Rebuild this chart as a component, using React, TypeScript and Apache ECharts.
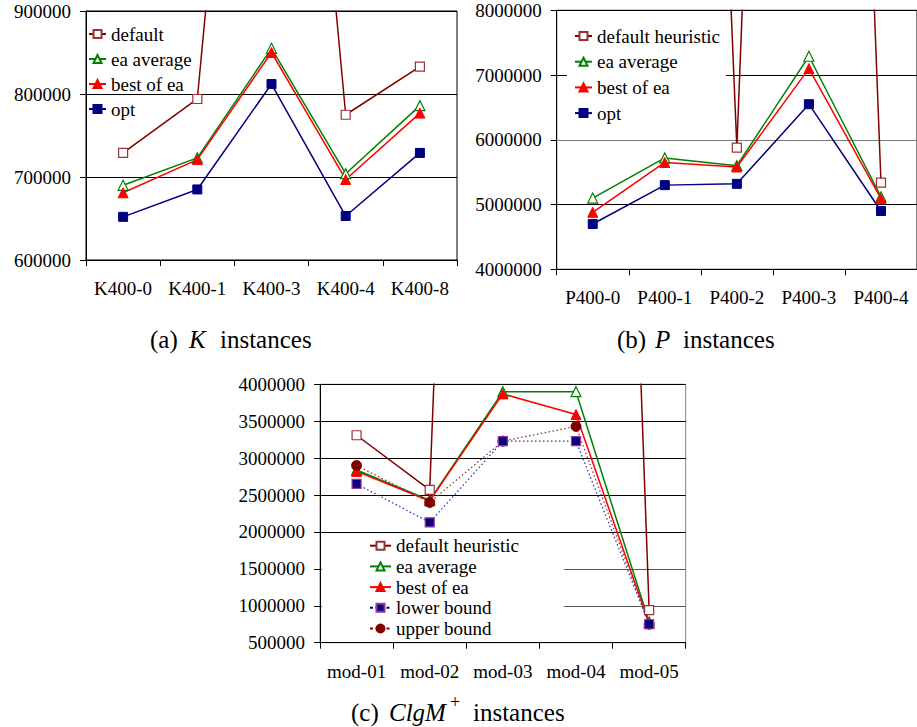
import React, { useEffect, useRef } from 'react';
import * as echarts from 'echarts';

const FONT = 'Liberation Serif';

// ---- Panel (a): K instances ----
const kCategories = ['K400-0', 'K400-1', 'K400-3', 'K400-4', 'K400-8'];
const kDefault = [729000, 794000, 1740000, 775000, 833000];
const kEaAverage = [690000, 723000, 855000, 704000, 786000];
const kBestOfEa = [681000, 721000, 850000, 697000, 777000];
const kOpt = [652000, 685000, 812000, 653000, 729000];
const kTicks = { min: 600000, max: 900000, interval: 100000 };

// ---- Panel (b): P instances ----
const pCategories = ['P400-0', 'P400-1', 'P400-2', 'P400-3', 'P400-4'];
const pDefault = [30000000, 32600000, 5880000, 34500000, 5340000];
const pEaAverage = [5100000, 5720000, 5600000, 7290000, 5120000];
const pBestOfEa = [4880000, 5650000, 5580000, 7100000, 5090000];
const pOpt = [4700000, 5300000, 5320000, 6550000, 4900000];
const pTicks = { min: 4000000, max: 8000000, interval: 1000000 };

// ---- Panel (c): ClgM+ instances ----
const cCategories = ['mod-01', 'mod-02', 'mod-03', 'mod-04', 'mod-05'];
const cDefault = [3310000, 2570000, 28000000, 28500000, 940000];
const cEaAverage = [2840000, 2430000, 3900000, 3900000, 780000];
const cBestOfEa = [2820000, 2420000, 3870000, 3590000, 760000];
const cLowerBound = [2650000, 2130000, 3230000, 3230000, 750000];
const cUpperBound = [2900000, 2400000, 3230000, 3430000, 750000];
const cTicks = { min: 500000, max: 4000000, interval: 500000 };

const styles: Record<string, any> = {
  default: {
    symbol: 'rect', symbolSize: 9,
    lineStyle: { color: '#800000', width: 1.5 },
    itemStyle: { color: '#ffffff', borderColor: '#993333', borderWidth: 1.2 },
  },
  ea: {
    symbol: 'triangle', symbolSize: 10,
    lineStyle: { color: '#008000', width: 1.5 },
    itemStyle: { color: '#ffffff', borderColor: '#008000', borderWidth: 1.2 },
  },
  best: {
    symbol: 'triangle', symbolSize: 10,
    lineStyle: { color: '#ff0000', width: 1.5 },
    itemStyle: { color: '#ff0000', borderColor: '#ff0000', borderWidth: 1 },
  },
  opt: {
    symbol: 'rect', symbolSize: 9,
    lineStyle: { color: '#000080', width: 1.5 },
    itemStyle: { color: '#000080', borderColor: '#000080', borderWidth: 1 },
  },
  lower: {
    symbol: 'rect', symbolSize: 9,
    lineStyle: { color: '#3333cc', width: 1.3, type: [1.5, 2.5] },
    itemStyle: { color: '#000080', borderColor: '#993399', borderWidth: 1.2 },
  },
  upper: {
    symbol: 'circle', symbolSize: 10,
    lineStyle: { color: '#993333', width: 1.3, type: [1.5, 2.5] },
    itemStyle: { color: '#800000', borderColor: '#800000', borderWidth: 1 },
  },
};

function line(name: string, data: number[], idx: number, style: string, z = 2) {
  const s = styles[style];
  return {
    type: 'line',
    name,
    data,
    xAxisIndex: idx,
    yAxisIndex: idx,
    symbol: s.symbol,
    symbolSize: s.symbolSize,
    showSymbol: true,
    lineStyle: s.lineStyle,
    itemStyle: s.itemStyle,
    clip: true,
    z,
    silent: true,
    emphasis: { disabled: true },
  };
}

const grids = [
  { left: 86, top: 11, width: 371, height: 249, borderColor: '#000' },
  { left: 556.7, top: 10.3, width: 360.3, height: 259, borderColor: '#000' },
  { left: 320, top: 384.3, width: 365.7, height: 258.4, borderColor: '#808080' },
];

function xAxis(idx: number, data: string[]) {
  return {
    type: 'category',
    gridIndex: idx,
    data,
    boundaryGap: true,
    axisLine: { show: true, lineStyle: { color: '#000', width: 1 } },
    axisTick: { show: true, alignWithLabel: false, length: 6, lineStyle: { color: '#000' } },
    axisLabel: { color: '#000', fontFamily: FONT, fontSize: 19, margin: 19, interval: 0 },
    splitLine: { show: false },
  };
}

function yAxis(idx: number, t: { min: number; max: number; interval: number }, colors: string[] | string) {
  return {
    type: 'value',
    gridIndex: idx,
    min: t.min,
    max: t.max,
    interval: t.interval,
    axisLine: { show: true, lineStyle: { color: '#000', width: 1 } },
    axisTick: { show: true, length: 6, lineStyle: { color: '#000' } },
    axisLabel: {
      color: '#000', fontFamily: FONT, fontSize: 19, margin: 15,
      formatter: (v: number) => String(v),
    },
    splitLine: { show: true, lineStyle: { color: colors, width: 1 } },
  };
}

const legendText = { color: '#000', fontFamily: FONT, fontSize: 19, lineHeight: 19 };

function caption(x: number, y: number, text: string, italic = false, size = 25) {
  return {
    type: 'text',
    x,
    y,
    z: 100,
    silent: true,
    style: {
      text,
      fill: '#000',
      font: `${italic ? 'italic ' : ''}${size}px ${FONT}`,
      align: 'left',
      verticalAlign: 'middle',
    },
  };
}

const option = {
  animation: false,
  backgroundColor: '#ffffff',
  textStyle: { fontFamily: FONT },
  grid: grids.map((g) => ({
    left: g.left, top: g.top, width: g.width, height: g.height,
    show: true, borderColor: g.borderColor, borderWidth: 1, backgroundColor: 'transparent',
    containLabel: false,
  })),
  xAxis: [xAxis(0, kCategories), xAxis(1, pCategories), xAxis(2, cCategories)],
  yAxis: [
    yAxis(0, kTicks, '#000'),
    yAxis(1, pTicks, ['#000', '#000', '#7a7a7a', '#000', '#000']),
    yAxis(2, cTicks, ['#000', '#555', '#555', '#000', '#000', '#000', '#000', '#000']),
  ],
  legend: [
    {
      orient: 'vertical', left: 88, top: 24.5, padding: 0,
      itemWidth: 17, itemHeight: 10, itemGap: 6,
      textStyle: legendText, selectedMode: false,
      data: ['default', 'ea average', 'best of ea', 'opt'],
    },
    {
      orient: 'vertical', left: 567, top: 18, padding: [8.5, 6, 3, 7],
      backgroundColor: '#ffffff',
      itemWidth: 17, itemHeight: 10, itemGap: 6.7,
      textStyle: legendText, selectedMode: false,
      data: ['default heuristic', 'ea average', 'best of ea', 'opt'],
    },
    {
      orient: 'vertical', left: 322, top: 533, padding: [3.2, 45, 3, 47],
      backgroundColor: '#ffffff',
      itemWidth: 21, itemHeight: 10, itemGap: 1.7,
      textStyle: legendText, selectedMode: false,
      data: [
        'default heuristic', 'ea average', 'best of ea',
        { name: 'lower bound', lineStyle: { type: [3, 2.5], width: 2, color: '#000080' } },
        { name: 'upper bound', lineStyle: { type: [3, 2.5], width: 2, color: '#800000' } },
      ],
    },
  ],
  series: [
    line('default', kDefault, 0, 'default'),
    line('ea average', kEaAverage, 0, 'ea'),
    line('best of ea', kBestOfEa, 0, 'best'),
    line('opt', kOpt, 0, 'opt'),

    line('default heuristic', pDefault, 1, 'default'),
    line('ea average', pEaAverage, 1, 'ea'),
    line('best of ea', pBestOfEa, 1, 'best'),
    line('opt', pOpt, 1, 'opt'),

    line('default heuristic', cDefault, 2, 'default'),
    line('ea average', cEaAverage, 2, 'ea'),
    line('best of ea', cBestOfEa, 2, 'best'),
    line('upper bound', cUpperBound, 2, 'upper'),
    line('lower bound', cLowerBound, 2, 'lower', 3),
  ],
  graphic: [
    caption(150, 339, '(a)'),
    caption(189, 339, 'K', true),
    caption(220, 339, 'instances'),
    caption(617, 339, '(b)'),
    caption(655, 339, 'P', true),
    caption(683, 339, 'instances'),
    caption(351, 712, '(c)'),
    caption(389, 712, 'ClgM', true),
    caption(450, 702, '+', false, 18),
    caption(473, 712, 'instances'),
  ],
};

export default function App() {
  const ref = useRef<HTMLDivElement>(null);
  useEffect(() => {
    if (!ref.current) return;
    const chart = echarts.init(ref.current, undefined, { renderer: 'svg' });
    chart.setOption(option as any);
    return () => chart.dispose();
  }, []);
  return (
    <div
      ref={ref}
      style={{ position: 'absolute', left: 0, top: 0, width: 917, height: 727, background: '#fff' }}
    />
  );
}
